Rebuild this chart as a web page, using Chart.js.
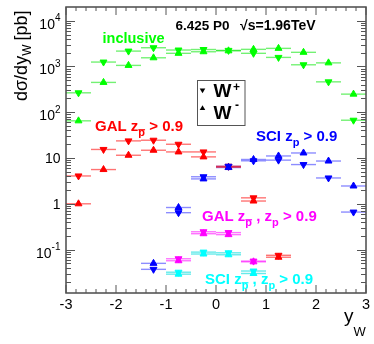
<!DOCTYPE html>
<html><head><meta charset="utf-8">
<script src="https://cdn.jsdelivr.net/npm/chart.js@4.4.0/dist/chart.umd.min.js"></script>
<style>html,body{margin:0;padding:0;background:#fff}#wrap{width:374px;height:344px}</style>
</head><body><div id="wrap"><canvas id="c" width="374" height="344"></canvas></div>
<script>
// ---- data ----
const binCenters = [-2.75,-2.25,-1.75,-1.25,-0.75,-0.25,0.25,0.75,1.25,1.75,2.25,2.75];
const binHalfWidth = 0.25;
// inclusive
const inclusiveWplus  = [266, 1250, 2170, 2570, 2290, 2350, 2250, 1940, 1580, 1090, 462, 67];
const inclusiveWminus = [65, 449, 1057, 1550, 1940, 2100, 2200, 2370, 2490, 2040, 1200, 249];
// GAL z_pbar > 0.9
const galPbarWplus  = [4.06, 15.4, 23.7, 24.5, 20.0, 13.6, 6.6, 1.35, 0.075, null, null, null];
const galPbarWminus = [1.0, 5.6, 11.5, 14.8, 13.6, 10.6, 6.3, 1.15, 0.068, null, null, null];
// SCI z_p > 0.9
const sciPWplus  = [null, null, null, 0.037, 0.64, 3.9, 6.6, 8.7, 9.0, 7.2, 3.67, 0.66];
const sciPWminus = [null, null, null, 0.050, 0.83, 3.5, 6.2, 9.3, 11.1, 12.9, 8.6, 2.45];
// GAL z_pbar, z_p > 0.9
const galBothWplus  = [null, null, null, null, 0.063, 0.245, 0.235, 0.056, null, null, null, null];
const galBothWminus = [null, null, null, null, 0.057, 0.222, 0.212, 0.054, null, null, null, null];
// SCI z_pbar, z_p > 0.9
const sciBothWplus  = [null, null, null, null, 0.032, 0.088, 0.085, 0.034, null, null, null, null];
const sciBothWminus = [null, null, null, null, 0.029, 0.080, 0.077, 0.030, null, null, null, null];

const xTickLabels = ['-3','-2','-1','0','1','2','3'];
const yDecadeExponents = [-1, 0, 1, 2, 3, 4];
const yRange = [0.01125, 19950];

// ---- chart ----
const FONT = "'Liberation Sans', Arial, Helvetica, sans-serif";
function series(values, color, errColor, isPlus) {
  return {
    data: binCenters.map((x, i) => values[i] == null ? null : {x: x, y: values[i]}).filter(p => p),
    backgroundColor: color, borderColor: color, borderWidth: 1,
    pointStyle: 'triangle', pointRadius: 4, pointRotation: isPlus ? 180 : 0,
    showLine: false, errColor: errColor
  };
}
const groups = [
  ['#00ff00', 'rgba(0,230,0,0.55)', inclusiveWplus, inclusiveWminus],
  ['#ff0000', 'rgba(255,0,0,0.55)', galPbarWplus, galPbarWminus],
  ['#0000ff', 'rgba(0,0,255,0.45)', sciPWplus, sciPWminus],
  ['#ff00ff', 'rgba(255,0,255,0.55)', galBothWplus, galBothWminus],
  ['#00ffff', 'rgba(0,220,220,0.6)', sciBothWplus, sciBothWminus]
];
let datasets = [];
groups.forEach(g => { datasets.push(series(g[2], g[0], g[1], true)); datasets.push(series(g[3], g[0], g[1], false)); });
datasets = datasets.reverse(); // later groups drawn on top

const errorBars = {
  id: 'errorBars',
  beforeDatasetsDraw(chart) {
    const ctx = chart.ctx, xs = chart.scales.x, ys = chart.scales.y;
    ctx.save();
    chart.data.datasets.forEach(ds => {
      ctx.strokeStyle = ds.errColor; ctx.lineWidth = 1.4;
      ds.data.forEach(p => {
        const y = ys.getPixelForValue(p.y);
        ctx.beginPath();
        ctx.moveTo(xs.getPixelForValue(p.x - binHalfWidth), y);
        ctx.lineTo(xs.getPixelForValue(p.x + binHalfWidth), y);
        ctx.stroke();
      });
    });
    ctx.restore();
  }
};

function drawRuns(ctx, runs, x, y) {
  runs.forEach(r => {
    ctx.font = (r.bold ? 'bold ' : '') + r.size + 'px ' + FONT;
    const w = ctx.measureText(r.t).width;
    const yy = y + (r.dy || 0);
    ctx.fillText(r.t, x, yy);
    if (r.bar) ctx.fillRect(x, yy - r.size * 0.62, w, 1.2);
    x += w + (r.gap || 0);
  });
  return x;
}

const frame = {
  id: 'frame',
  afterDraw(chart) {
    const ctx = chart.ctx, xs = chart.scales.x, ys = chart.scales.y, a = chart.chartArea;
    ctx.save();
    ctx.strokeStyle = '#4a4a4a'; ctx.lineWidth = 1.5;
    ctx.strokeRect(a.left, a.top, a.right - a.left, a.bottom - a.top);
    ctx.lineWidth = 1; ctx.strokeStyle = '#555';
    ctx.beginPath();
    for (let k = -30; k <= 30; k += 2) {
      const px = xs.getPixelForValue(k / 10);
      const len = (k % 10 === 0) ? 8 : 4;
      ctx.moveTo(px, a.bottom); ctx.lineTo(px, a.bottom - len);
      ctx.moveTo(px, a.top); ctx.lineTo(px, a.top + len);
    }
    for (let d = -2; d <= 4; d++) {
      for (let m = 1; m <= 9; m++) {
        const v = m * Math.pow(10, d);
        if (v < yRange[0] || v > yRange[1]) continue;
        const py = Math.round(ys.getPixelForValue(v)) + 0.5;
        const len = (m === 1) ? 9 : 5;
        ctx.moveTo(a.left, py); ctx.lineTo(a.left + len, py);
        ctx.moveTo(a.right, py); ctx.lineTo(a.right - len, py);
      }
    }
    ctx.stroke();
    // x tick labels
    ctx.fillStyle = '#000';
    ctx.font = '14.5px ' + FONT; ctx.textAlign = 'center'; ctx.textBaseline = 'alphabetic';
    xTickLabels.forEach(l => { ctx.fillText(l, xs.getPixelForValue(parseFloat(l)), 309); });
    // y tick labels
    ctx.textAlign = 'left';
    yDecadeExponents.forEach(e => {
      const py = ys.getPixelForValue(Math.pow(10, e));
      const right = 60.5;
      if (e === 0 || e === 1) {
        const t = e === 0 ? '1' : '10';
        ctx.font = '14px ' + FONT;
        const w = ctx.measureText(t).width;
        ctx.fillText(t, right - w, py + 5);
      } else {
        const ex = String(e);
        ctx.font = '10px ' + FONT; const we = ctx.measureText(ex).width;
        ctx.font = '14px ' + FONT; const wb = ctx.measureText('10').width;
        ctx.fillText('10', right - we - wb, py + 8);
        ctx.font = '10px ' + FONT; ctx.fillText(ex, right - we, py + 0.5);
      }
    });
    // axis titles
    ctx.save();
    ctx.translate(27, 101); ctx.rotate(-Math.PI / 2);
    drawRuns(ctx, [{t: 'd\u03c3/dy', size: 18}, {t: 'W', size: 12, dy: 4, gap: 4}, {t: '[pb]', size: 18}], 0, 0);
    ctx.restore();
    drawRuns(ctx, [{t: 'y', size: 19}, {t: 'W', size: 13, dy: 14}], 344, 322);
    // header
    ctx.fillStyle = '#000';
    drawRuns(ctx, [{t: '6.425 P0', size: 13.5, bold: true}], 175.5, 30);
    drawRuns(ctx, [{t: '\u221As=1.96TeV', size: 14, bold: true}], 240, 30);
    // annotations
    ctx.fillStyle = '#00ff00';
    drawRuns(ctx, [{t: 'inclusive', size: 14.5, bold: true}], 102.5, 43);
    const big = 15, sub = 11;
    ctx.fillStyle = '#ff0000';
    drawRuns(ctx, [{t: 'GAL z', size: big, bold: true}, {t: 'p', size: sub, bold: true, dy: 5, bar: true}, {t: ' > 0.9', size: big, bold: true}], 95, 131);
    ctx.fillStyle = '#0000ff';
    drawRuns(ctx, [{t: 'SCI z', size: big, bold: true}, {t: 'p', size: sub, bold: true, dy: 5}, {t: ' > 0.9', size: big, bold: true}], 256, 141);
    ctx.fillStyle = '#ff00ff';
    drawRuns(ctx, [{t: 'GAL z', size: big, bold: true}, {t: 'p', size: sub, bold: true, dy: 5, bar: true}, {t: ' , z', size: big, bold: true}, {t: 'p', size: sub, bold: true, dy: 5}, {t: ' > 0.9', size: big, bold: true}], 202, 221);
    ctx.fillStyle = '#00ffff';
    drawRuns(ctx, [{t: 'SCI z', size: big, bold: true}, {t: 'p', size: sub, bold: true, dy: 5, bar: true}, {t: ' , z', size: big, bold: true}, {t: 'p', size: sub, bold: true, dy: 5}, {t: ' > 0.9', size: big, bold: true}], 205, 284);
    // legend
    ctx.fillStyle = '#fff'; ctx.strokeStyle = '#555'; ctx.lineWidth = 1;
    ctx.fillRect(197.5, 80.5, 47.5, 45); ctx.strokeRect(197.5, 80.5, 47.5, 45);
    ctx.fillStyle = '#000';
    const tri = (cx, cy, r, down) => {
      ctx.beginPath();
      const s = down ? -1 : 1;
      ctx.moveTo(cx, cy - s * r); ctx.lineTo(cx - r * 0.87, cy + s * r * 0.5); ctx.lineTo(cx + r * 0.87, cy + s * r * 0.5);
      ctx.closePath(); ctx.fill();
    };
    tri(202.5, 90, 3.2, true); tri(202.5, 108.5, 3.2, false);
    drawRuns(ctx, [{t: 'W', size: 19, bold: true}], 213.5, 97);
    drawRuns(ctx, [{t: '+', size: 12, bold: true}], 233, 91);
    drawRuns(ctx, [{t: 'W', size: 19, bold: true}], 213.5, 119);
    drawRuns(ctx, [{t: '-', size: 12, bold: true}], 235, 109);
    ctx.restore();
  }
};

new Chart(document.getElementById('c'), {
  type: 'scatter',
  data: { datasets: datasets },
  options: {
    responsive: false, animation: false, devicePixelRatio: 1,
    layout: { padding: { left: 66, right: 8, top: 7, bottom: 51 } },
    plugins: { legend: { display: false }, tooltip: { enabled: false } },
    scales: {
      x: { type: 'linear', min: -3, max: 3, display: false },
      y: { type: 'logarithmic', min: yRange[0], max: yRange[1], display: false }
    }
  },
  plugins: [errorBars, frame]
});
</script></body></html>
